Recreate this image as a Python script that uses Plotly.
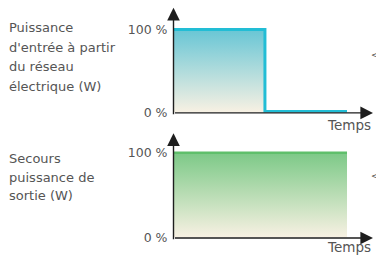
import plotly.graph_objects as go

# ---- data ----
time_top = [0, 5.27, 5.27, 10]
power_top = [100, 100, 1, 1]
time_top_fill = [0, 5.27]
power_top_fill = [100, 100]

time_bottom = [0, 10]
power_bottom = [100, 100]

y_tick_vals = [0, 100]
y_tick_text = ["0 %", "100 %"]

top_label_lines = ["Puissance", "d'entrée à partir", "du réseau", "électrique (W)"]
bottom_label_lines = ["Secours", "puissance de", "sortie (W)"]
x_label = "Temps"

W, H = 376, 262
FONT = "DejaVu Sans"
TXT = "#555555"
AXC = "#1e1e1e"
CYAN = "#22bdd5"
GREEN = "#5fbf6b"
CREAM = "#f8f1e3"

def px(x):
    return x / W

def py(y):
    return 1 - y / H

fig = go.Figure()

# top chart
fig.add_trace(go.Scatter(x=time_top_fill, y=power_top_fill, mode="lines", line=dict(width=0),
                         fill="tozeroy",
                         fillgradient=dict(type="vertical", colorscale=[[0, CREAM], [1, "#68c6d5"]]),
                         xaxis="x", yaxis="y", showlegend=False, hoverinfo="skip"))
fig.add_trace(go.Scatter(x=time_top, y=power_top, mode="lines", line=dict(color=CYAN, width=3),
                         xaxis="x", yaxis="y", showlegend=False, cliponaxis=False))
# bottom chart
fig.add_trace(go.Scatter(x=time_bottom, y=power_bottom, mode="lines", line=dict(width=0),
                         fill="tozeroy",
                         fillgradient=dict(type="vertical", colorscale=[[0, CREAM], [1, "#7cc987"]]),
                         xaxis="x2", yaxis="y2", showlegend=False, hoverinfo="skip"))
fig.add_trace(go.Scatter(x=time_bottom, y=power_bottom, mode="lines", line=dict(color=GREEN, width=2.5),
                         xaxis="x2", yaxis="y2", showlegend=False, cliponaxis=False))

xdom = [px(173.5), px(372)]
common_x = dict(range=[0, 11.44], showgrid=False, zeroline=False, showline=False,
                showticklabels=False, ticks="")
common_y = dict(showgrid=False, zeroline=False, showline=False, tickvals=y_tick_vals,
                ticktext=y_tick_text, ticks="", ticklabelstandoff=5,
                tickfont=dict(family=FONT, size=12.5, color=TXT))

fig.update_layout(
    width=W, height=H, margin=dict(l=0, r=0, t=0, b=0),
    paper_bgcolor="white", plot_bgcolor="rgba(0,0,0,0)",
    xaxis=dict(domain=xdom, anchor="y", **common_x),
    yaxis=dict(domain=[py(115.5), py(8.5)], anchor="x", range=[0, 125.7], **common_y),
    xaxis2=dict(domain=xdom, anchor="y2", **common_x),
    yaxis2=dict(domain=[py(244), py(137)], anchor="x2", range=[0, 123], **common_y),
)

anns = []
# axis arrows
def arrow(x0, y0, x1, y1):
    anns.append(dict(x=px(x1), y=py(y1), xref="paper", yref="paper",
                     ax=x0 - x1, ay=y0 - y1, axref="pixel", ayref="pixel",
                     text="", showarrow=True, arrowhead=2, arrowsize=1.8,
                     arrowwidth=1.4, arrowcolor=AXC, standoff=0))

arrow(173.5, 116, 173.5, 8)
arrow(173.5, 116, 373, 116)
arrow(173.5, 244.5, 173.5, 137)
arrow(173.5, 244.5, 373, 244.5)

def text(t, x, y, xanchor="left", size=13):
    anns.append(dict(x=px(x), y=py(y), xref="paper", yref="paper", text=t,
                     showarrow=False, xanchor=xanchor, yanchor="middle",
                     font=dict(family=FONT, size=size, color=TXT)))

for i, line in enumerate(top_label_lines):
    text(line, 7, 28.5 + 20 * i)
for i, line in enumerate(bottom_label_lines):
    text(line, 7, 163 + 19 * i)

text(x_label, 373, 128.5, xanchor="right", size=13.5)
text(x_label, 373, 253.5, xanchor="right", size=13.5)

text("<", 369, 56, size=9)
text("<", 369, 181, size=9)

fig.update_layout(annotations=anns)

fig.write_html(
    "out.html",
    config={"displayModeBar": False},
    post_script="document.body.style.margin='0';document.documentElement.style.overflow='hidden';",
)
